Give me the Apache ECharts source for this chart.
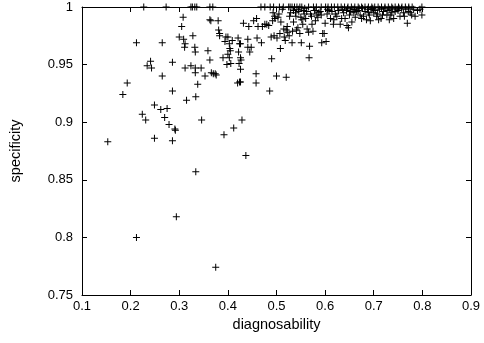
<!DOCTYPE html>
<html><head><meta charset="utf-8">
<script src="https://cdn.jsdelivr.net/npm/echarts@6/dist/echarts.min.js"></script>
<style>html,body{margin:0;padding:0;background:#fff}#c{width:484px;height:343px}</style>
</head><body><div id="c"></div>
<script>
const xTicks = [0.1,0.2,0.3,0.4,0.5,0.6,0.7,0.8,0.9];
const yTicks = [0.75,0.8,0.85,0.9,0.95,1];
const diagnosability = [
0.153,0.212,0.294,0.375,0.334,0.437,0.184,0.193,0.212,0.224,0.231,0.234,0.241,0.243,0.249,0.249,0.262,0.265,0.265,0.270,
0.275,0.279,0.286,0.286,0.286,0.291,0.292,0.300,0.305,0.308,0.309,0.312,0.311,0.312,0.315,0.324,0.328,0.332,0.333,0.333,
0.333,0.334,0.338,0.345,0.346,0.353,0.359,0.363,0.363,0.365,0.366,0.370,0.374,0.376,0.380,0.381,0.383,0.383,0.392,0.390,
0.394,0.396,0.400,0.398,0.400,0.403,0.403,0.404,0.405,0.406,0.409,0.412,0.420,0.421,0.422,0.424,0.426,0.423,0.424,0.426,
0.426,0.426,0.429,0.427,0.432,0.441,0.441,0.445,0.443,0.448,0.458,0.458,0.453,0.459,0.460,0.462,0.469,0.471,0.476,0.480,
0.484,0.486,0.490,0.489,0.492,0.493,0.495,0.496,0.497,0.500,0.501,0.505,0.507,0.508,0.509,0.515,0.516,0.518,0.520,0.520,
0.522,0.523,0.526,0.529,0.532,0.533,0.535,0.539,0.541,0.544,0.548,0.551,0.552,0.554,0.557,0.563,0.566,0.567,0.568,0.570,
0.573,0.575,0.580,0.583,0.587,0.593,0.595,0.598,0.600,0.602,0.604,0.611,0.617,0.621,0.624,0.631,0.634,0.638,0.645,0.648,
0.650,0.655,0.659,0.665,0.672,0.679,0.685,0.689,0.693,0.696,0.700,0.706,0.710,0.715,0.720,0.727,0.732,0.737,0.741,0.748,
0.754,0.761,0.769,0.775,0.782,0.785,0.799,
0.535,0.540,0.546,0.550,0.556,0.560,0.562,0.572,0.578,0.585,0.590,0.592,0.608,0.614,0.618,0.627,0.636,0.641,0.644,0.652,
0.657,0.662,0.668,0.670,0.675,0.682,0.687,0.691,0.698,0.703,0.708,0.712,0.718,0.723,0.729,0.735,0.739,0.744,0.750,0.757,
0.763,0.766,0.772,0.778,0.790,0.795,0.512,0.503,0.527,0.545,0.558,0.581,0.605,0.628,0.646,0.660,0.677,0.694,0.716,0.733,
0.752,0.771
];
const specificity = [
0.883,0.800,0.818,0.774,0.857,0.871,0.924,0.934,0.969,0.907,0.902,0.949,0.953,0.947,0.915,0.886,0.911,0.969,0.940,0.904,
0.912,0.898,0.927,0.884,0.952,0.894,0.893,0.974,0.983,0.991,0.972,0.968,0.965,0.947,0.919,0.949,0.975,0.965,0.961,0.947,
0.943,0.922,0.933,0.947,0.902,0.940,0.962,0.954,0.989,0.988,0.943,0.942,0.942,0.941,0.988,0.980,0.977,0.975,0.889,0.956,
0.970,0.974,0.974,0.950,0.959,0.956,0.968,0.964,0.962,0.951,0.971,0.895,0.934,0.973,0.961,0.968,0.968,0.951,0.935,0.935,
0.946,0.956,0.902,0.954,0.986,0.972,0.965,0.961,0.983,0.965,0.942,0.934,0.988,0.990,0.973,0.983,0.969,0.983,0.985,0.985,
0.984,0.927,0.955,0.974,0.988,0.995,0.975,0.992,0.990,0.940,0.973,0.994,0.977,0.964,0.987,0.981,0.974,0.971,0.939,0.980,
0.983,0.978,0.975,0.995,0.969,0.979,0.987,0.995,0.980,0.982,0.977,0.969,0.989,0.985,0.994,0.981,0.978,0.956,0.966,0.994,
0.985,0.979,0.988,0.993,0.995,0.969,0.977,0.977,0.986,0.970,0.994,0.990,0.985,0.994,0.992,0.985,0.990,0.995,0.984,0.982,
0.993,0.987,0.995,0.996,0.993,0.992,0.989,0.995,0.988,0.998,0.995,0.992,0.989,0.990,0.996,0.993,0.989,0.995,0.990,0.998,
0.992,0.995,0.986,0.995,0.998,0.992,0.993,
0.997,0.992,0.996,0.991,0.997,0.990,0.996,0.992,0.997,0.991,0.996,0.993,0.997,0.996,0.989,0.997,0.998,0.990,0.997,0.996,
0.998,0.991,0.997,0.999,0.990,0.996,0.998,0.993,0.999,0.997,0.994,0.998,0.993,0.999,0.997,0.993,0.999,0.996,0.997,0.999,
0.992,0.998,0.999,0.993,0.997,0.998,0.998,0.991,0.992,0.998,0.999,0.997,0.998,0.997,0.999,0.998,0.999,0.998,0.999,0.998,
0.999,0.996
];
const topRowDiagnosability = [
0.227,0.273,0.324,0.327,0.332,0.336,0.363,0.369,0.468,0.476,0.487,0.494,0.506,0.514,0.525,0.528,0.532,0.537,0.542,0.548,
0.552,0.566,0.576,0.582,0.592,0.601,0.606,0.613,0.619,0.626,0.633,0.640,0.647,0.654,0.661,0.668,0.675,0.682,0.689,0.696,
0.702,0.709,0.716,0.723,0.730,0.737,0.744,0.751,0.758,0.765,0.772,0.779,0.799
];
const pts = diagnosability.map((d,i)=>[d, specificity[i]]);
topRowDiagnosability.forEach(d=>pts.push([d,1]));
const plus = 'path://M3,0h1v3h3v1h-3v3h-1v-3h-3v-1h3z';
const font = 'Liberation Sans, Arial, sans-serif';
const chart = echarts.init(document.getElementById('c'), null, {renderer:'canvas'});
const axLine = {show:true, lineStyle:{color:'#000', width:1}};
const tick = {show:true, inside:true, length:5, lineStyle:{color:'#000'}};
chart.setOption({
  animation:false,
  grid:{left:81, right:13, top:7, bottom:48},
  xAxis:[{
    type:'value', min:0.1, max:0.9, interval:0.1,
    name:'diagnosability', nameLocation:'middle', nameGap:19,
    nameTextStyle:{color:'#000', fontFamily:font, fontSize:14.5},
    axisLine:axLine, axisTick:tick, splitLine:{show:false},
    axisLabel:{color:'#000', fontFamily:font, fontSize:13, margin:5, formatter:v=>{const t=xTicks.find(k=>Math.abs(k-v)<1e-6);return t===undefined?'':String(t);}}
  },{
    type:'value', position:'top', min:0.1, max:0.9, interval:0.1,
    axisLine:axLine, axisTick:tick, axisLabel:{show:false}, splitLine:{show:false}
  }],
  yAxis:[{
    type:'value', min:0.75, max:1, interval:0.05,
    name:'specificity', nameLocation:'middle', nameGap:59,
    nameTextStyle:{color:'#000', fontFamily:font, fontSize:14.5},
    axisLine:axLine, axisTick:tick, splitLine:{show:false},
    axisLabel:{color:'#000', fontFamily:font, fontSize:13, margin:9, formatter:v=>{const t=yTicks.find(k=>Math.abs(k-v)<1e-6);return t===undefined?'':String(t);}}
  },{
    type:'value', position:'right', min:0.75, max:1, interval:0.05,
    axisLine:axLine, axisTick:tick, axisLabel:{show:false}, splitLine:{show:false}
  }],
  series:[{
    type:'scatter', data:pts, symbol:plus, symbolSize:7,
    itemStyle:{color:'#000', opacity:1}, clip:false, silent:true
  }]
});
</script></body></html>
